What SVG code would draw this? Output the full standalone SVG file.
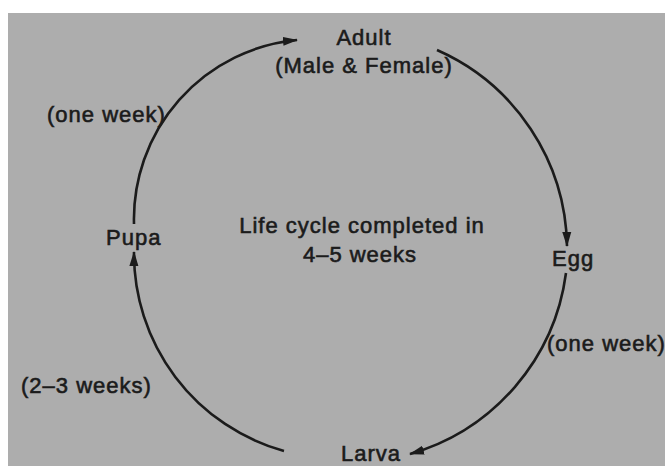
<svg xmlns="http://www.w3.org/2000/svg" width="665" height="466" viewBox="0 0 665 466">
  <defs>
    <marker id="head" viewBox="0 0 15 10" refX="14" refY="5" markerWidth="15" markerHeight="10" markerUnits="userSpaceOnUse" orient="auto">
      <path d="M0,0.5 L15,5 L0,9.5 Z" fill="#1b1b1b"/>
    </marker>
  </defs>
  <style>
    .lbl { font-family: "Liberation Sans", Arial, sans-serif; font-size: 22px; letter-spacing: 1px; fill: #1b1b1b; stroke: #1b1b1b; stroke-width: 0.6px; }
    .mid { text-anchor: middle; }
    .arc { fill: none; stroke: #1b1b1b; stroke-width: 2.6; marker-end: url(#head); }
  </style>

  <!-- page -->
  <rect x="0" y="0" width="665" height="466" fill="#ffffff"/>
  <rect x="8" y="13" width="657" height="453" fill="#adadad"/>

  <!-- cycle arrows -->
  <g id="connectors">
    <path class="arc" d="M134,224 A180,180 0 0,1 297,40"/>
    <path class="arc" d="M437,50 A218,218 0 0,1 567,246"/>
    <path class="arc" d="M566,273 A218,218 0 0,1 410,454"/>
    <path class="arc" d="M284,451 A205,205 0 0,1 134,252"/>
  </g>

  <g id="adult">
    <text class="lbl mid" x="364" y="45">Adult</text>
    <text class="lbl mid" x="364" y="73">(Male &amp; Female)</text>
  </g>
  <g id="egg">
    <text class="lbl" x="552" y="266">Egg</text>
  </g>
  <g id="larva">
    <text class="lbl" x="341" y="461">Larva</text>
  </g>
  <g id="pupa">
    <text class="lbl" x="106" y="245">Pupa</text>
  </g>
  <g id="durations">
    <text class="lbl" x="47" y="122">(one week)</text>
    <text class="lbl" x="547" y="351">(one week)</text>
    <text class="lbl" x="21" y="393">(2–3 weeks)</text>
  </g>
  <g id="summary">
    <text class="lbl mid" x="362" y="233">Life cycle completed in</text>
    <text class="lbl mid" x="360" y="262">4–5 weeks</text>
  </g>
</svg>
